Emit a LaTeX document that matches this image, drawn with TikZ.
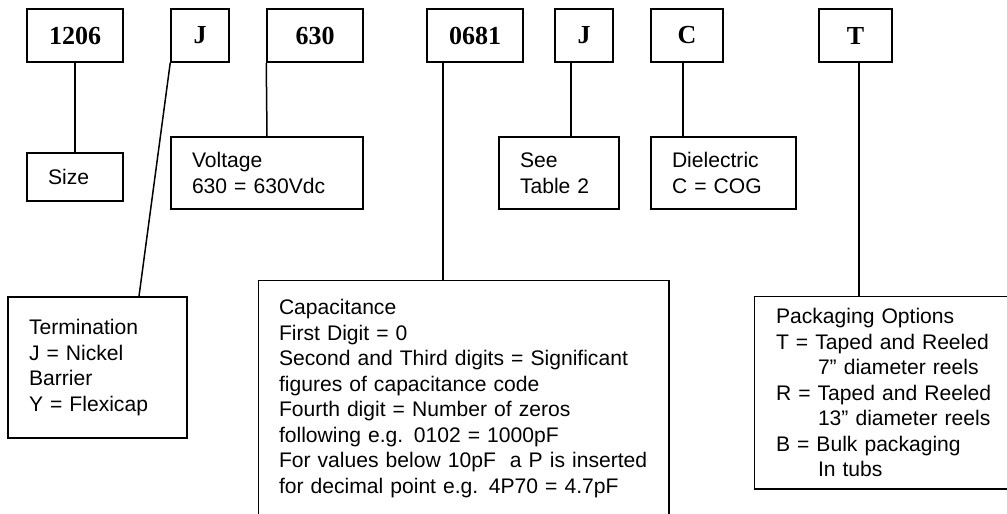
\documentclass[tikz,border=0pt]{standalone}
\usepackage{fontspec}
\setmainfont{Liberation Serif}
\setsansfont{Liberation Sans}
\usepackage{tikz}
\usetikzlibrary{positioning,calc}
\tikzset{
  codebox/.style={draw, line width=1.5pt, inner sep=0pt, minimum height=53,
    font=\fontsize{26}{30}\selectfont\bfseries},
  notebox/.style={draw, line width=1.5pt, align=left, inner xsep=21, inner ysep=0pt,
    font=\sffamily\fontsize{21.1}{25.5}\selectfont},
  link/.style={line width=1.5pt}
}

\begin{document}
\begin{tikzpicture}[x=1pt,y=-1pt]
      \useasboundingbox (0,0) rectangle (1007,514);
      \clip (0,0) rectangle (1007,514);

      \node[codebox, minimum width=96] at (75,35.5) (size code) {1206};
      \node[codebox, minimum width=58] at (200,35.5) (term code) {J};
      \node[codebox, minimum width=96] at (315,35.5) (volt code) {630};
      \node[codebox, minimum width=96] at (475,35.5) (cap code) {0681};
      \node[codebox, minimum width=58] at (584,35.5) (tol code) {J};
      \node[codebox, minimum width=72] at (687,35.5) (diel code) {C};
      \node[codebox, minimum width=73] at (855.5,35.5) (pack code) {T};

      \node[notebox, text width=54, minimum height=48] at (75,177) (size) {Size};
      \node[notebox, text width=150, minimum height=72] at (267,173) (volt) {Voltage\\630 = 630Vdc};
      \node[notebox, text width=78, minimum height=72] at (559,173) (tol) {See\\Table 2};
      \node[notebox, text width=103, minimum height=72] at (723.5,173) (diel) {Dielectric\\C = COG};

      \node[notebox, text width=137, minimum height=141] at (97.5,367.5) (term)
        {Termination\\J = Nickel\\Barrier\\Y = Flexicap};
      % these two run off the page, so only their visible sides are stroked
      \node[notebox, draw=none, inner xsep=20, text width=369, minimum height=235] at (463.5,398.5) (cap)
        {Capacitance\\First Digit = 0\\\mbox{Second and Third digits = Significant}\\
         figures of capacitance code\\Fourth digit = Number of zeros\\
         following e.g. 0102 = 1000pF\\\mbox{For values below 10pF\ \ a P is inserted}\\
         for decimal point e.g. 4P70 = 4.7pF};
      \node[notebox, draw=none, text width=230, minimum height=191] at (891,392.5) (pack)
        {Packaging Options\\T = Taped and Reeled\\\hspace*{42pt}7” diameter reels\\
         R = Taped and Reeled\\\hspace*{42pt}13” diameter reels\\
         B = Bulk packaging\\\hspace*{42pt}In tubs};
      \draw[link] (cap.south west) -- (cap.north west) -- (cap.north east) -- (cap.south east);
      \draw[link] (pack.north east) -- (pack.north west) -- (pack.south west) -- (pack.south east);

      \draw[link] (size code) -- (size);
      \draw[link] (term code.south west) -- ([xshift=41.5]term.north);
      \draw[link] (volt code.south west) -- (volt.north);
      \draw[link] ([xshift=-32]cap code.south) -- ([xshift=-32]cap code.south |- cap.north);
      \draw[link] ([xshift=-13]tol code.south) -- ([xshift=-13]tol code.south |- tol.north);
      \draw[link] ([xshift=-4]diel code.south) -- ([xshift=-4]diel code.south |- diel.north);
      \draw[link] ([xshift=3.5]pack code.south) -- ([xshift=3.5]pack code.south |- pack.north);
    \end{tikzpicture}
\end{document}
